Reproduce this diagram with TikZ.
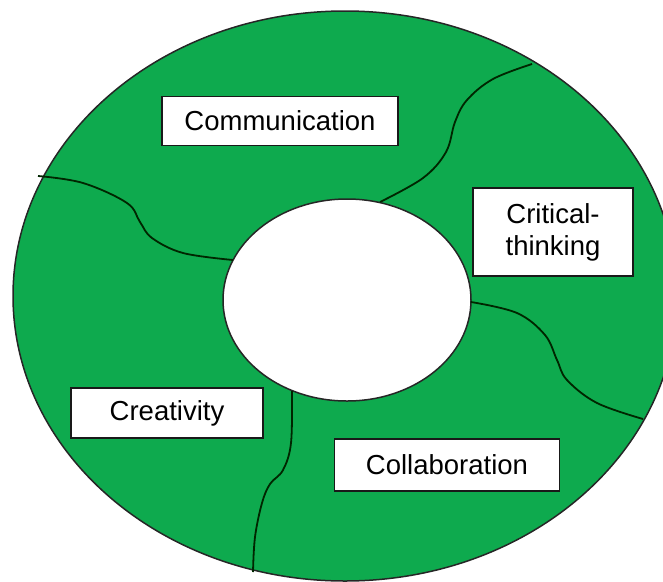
\documentclass[tikz,border=0pt]{standalone}
\usepackage{fontspec}
\setmainfont{Liberation Sans}
\definecolor{ringgreen}{RGB}{14,170,78}
\tikzset{
    skill/.style={draw=black!90, fill=white, line width=1.8pt, align=center, inner sep=0pt,
        font=\fontsize{27.5}{32}\selectfont},
    seam/.style={line width=1.8pt, draw=black!85!green}
}

\begin{document}
\begin{tikzpicture}[x=1pt,y=-1pt]
                \useasboundingbox (0,0) rectangle (663,581);
                
                % ring with the hole in the middle
                \filldraw[fill=ringgreen, draw=black!85, line width=1.5pt] (345,296) ellipse [x radius=332pt, y radius=285pt];
                \filldraw[fill=white, draw=black!85, line width=1.5pt] (347,300) ellipse [x radius=124pt, y radius=101pt];
                
                % seams between the four parts
                \draw[seam] plot[smooth, tension=0.6] coordinates {(38,176) (83,183) (127,203) (140,222) (152,238) (183,253) (233,260)};
                \draw[seam] plot[smooth, tension=0.6] coordinates {(380,202) (423,178) (446,152) (455,122) (467,100) (493,79) (532,64)};
                \draw[seam] plot[smooth, tension=0.6] coordinates {(471,302) (517,313) (545,335) (557,360) (567,380) (597,403) (643,419)};
                \draw[seam] plot[smooth, tension=0.6] coordinates {(292,391) (291,443) (283,470) (270,484) (262,503) (255,537) (253,572)};
                
                % labels
                \node[skill, minimum width=236pt, minimum height=49pt] (communication) at (280,121) {Communication};
                \node[skill, minimum width=160pt, minimum height=88pt] (critical) at (553,232) {Critical-\\thinking};
                \node[skill, minimum width=192pt, minimum height=50pt] (creativity) at (167,413) {Creativity};
                \node[skill, minimum width=225pt, minimum height=52pt] (collaboration) at (447,465) {Collaboration};
            \end{tikzpicture}
\end{document}
